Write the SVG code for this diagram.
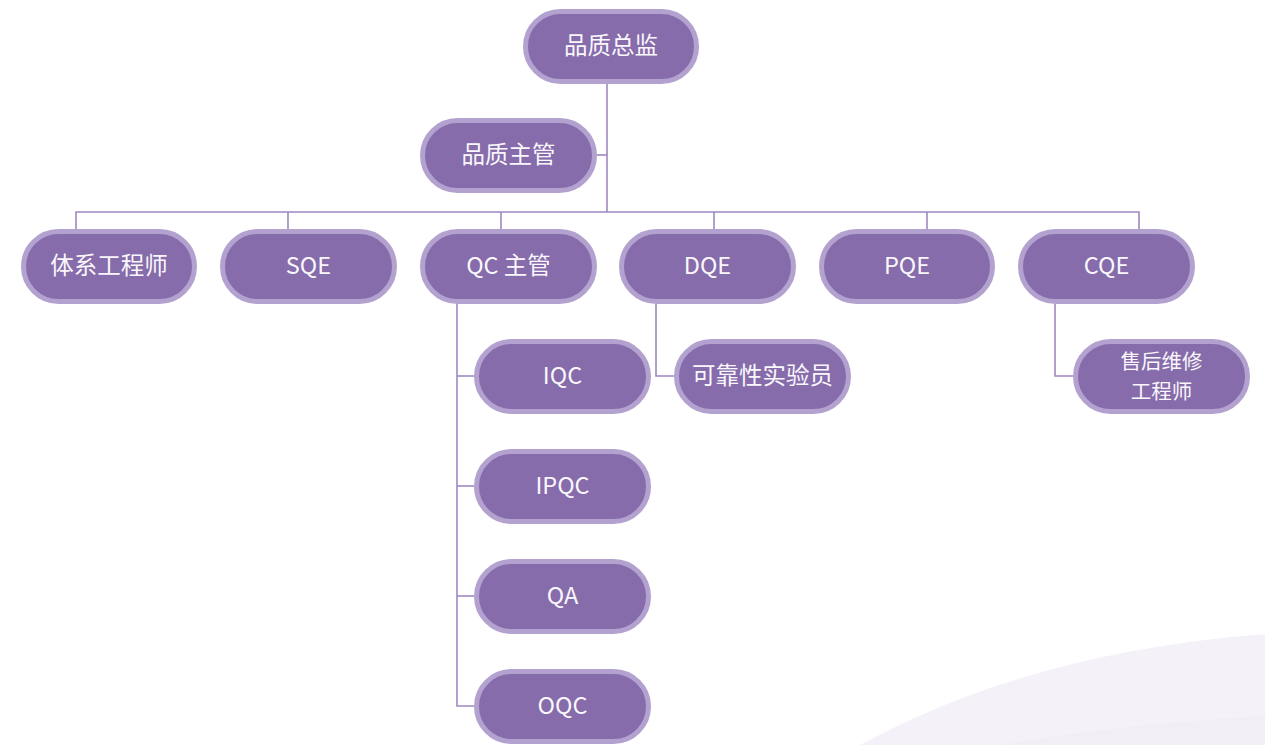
<svg xmlns="http://www.w3.org/2000/svg" width="1265" height="745" viewBox="0 0 1265 745">
<style>
.node rect{fill:#866CAA;stroke:#B3A2CF;stroke-width:5}
.node text{fill:#FAF7FC;font-family:"Noto Sans CJK SC","Noto Sans",sans-serif;font-size:23.5px;text-anchor:middle;dominant-baseline:central}
.node text.two{font-size:20.5px}
.conn path{fill:none;stroke:#9F88C2;stroke-width:1.6}
</style>
<rect width="1265" height="745" fill="#FFFFFF"/>
<path d="M860 745 Q1030 652 1265 634 L1265 745 Z" fill="#F4F2F8"/>
<path d="M1000 745 Q1120 724 1265 716 L1265 745 Z" fill="#F1EEF6"/>
<g class="conn">
<path d="M607 84 V212"/>
<path d="M597 155 H607"/>
<path d="M76 229 V212 H1139 V229"/>
<path d="M288 212 V229"/>
<path d="M501 212 V229"/>
<path d="M714 212 V229"/>
<path d="M927 212 V229"/>
<path d="M457 304 V706 H474"/>
<path d="M457 376 H474"/>
<path d="M457 486 H474"/>
<path d="M457 596 H474"/>
<path d="M656 304 V376 H674"/>
<path d="M1055 304 V376 H1073"/>
</g>
<g id="n-zongjian" class="node"><rect x="525.5" y="11.5" width="171" height="70" rx="35"/><text x="611" y="44">品质总监</text></g>
<g id="n-zhuguan" class="node"><rect x="422.5" y="120.5" width="172" height="70" rx="35"/><text x="508.5" y="153">品质主管</text></g>
<g id="n-tixi" class="node"><rect x="23.5" y="231.5" width="171" height="70" rx="35"/><text x="109" y="264">体系工程师</text></g>
<g id="n-sqe" class="node"><rect x="222.5" y="231.5" width="172" height="70" rx="35"/><text x="308.5" y="264">SQE</text></g>
<g id="n-qc" class="node"><rect x="422.5" y="231.5" width="172" height="70" rx="35"/><text x="508.5" y="264">QC 主管</text></g>
<g id="n-dqe" class="node"><rect x="621.5" y="231.5" width="172" height="70" rx="35"/><text x="707.5" y="264">DQE</text></g>
<g id="n-pqe" class="node"><rect x="821.5" y="231.5" width="171" height="70" rx="35"/><text x="907" y="264">PQE</text></g>
<g id="n-cqe" class="node"><rect x="1020.5" y="231.5" width="172" height="70" rx="35"/><text x="1106.5" y="264">CQE</text></g>
<g id="n-iqc" class="node"><rect x="476.5" y="341.5" width="172" height="70" rx="35"/><text x="562.5" y="374">IQC</text></g>
<g id="n-ipqc" class="node"><rect x="476.5" y="451.5" width="172" height="70" rx="35"/><text x="562.5" y="484">IPQC</text></g>
<g id="n-qa" class="node"><rect x="476.5" y="561.5" width="172" height="70" rx="35"/><text x="562.5" y="594">QA</text></g>
<g id="n-oqc" class="node"><rect x="476.5" y="671.5" width="172" height="70" rx="35"/><text x="562.5" y="704">OQC</text></g>
<g id="n-kekao" class="node"><rect x="676.5" y="341.5" width="172" height="70" rx="35"/><text x="762.5" y="374">可靠性实验员</text></g>
<g id="n-shouhou" class="node"><rect x="1075.5" y="341.5" width="172" height="70" rx="35"/><text class="two" x="1161.5" y="360">售后维修</text><text class="two" x="1161.5" y="390">工程师</text></g>
</svg>
